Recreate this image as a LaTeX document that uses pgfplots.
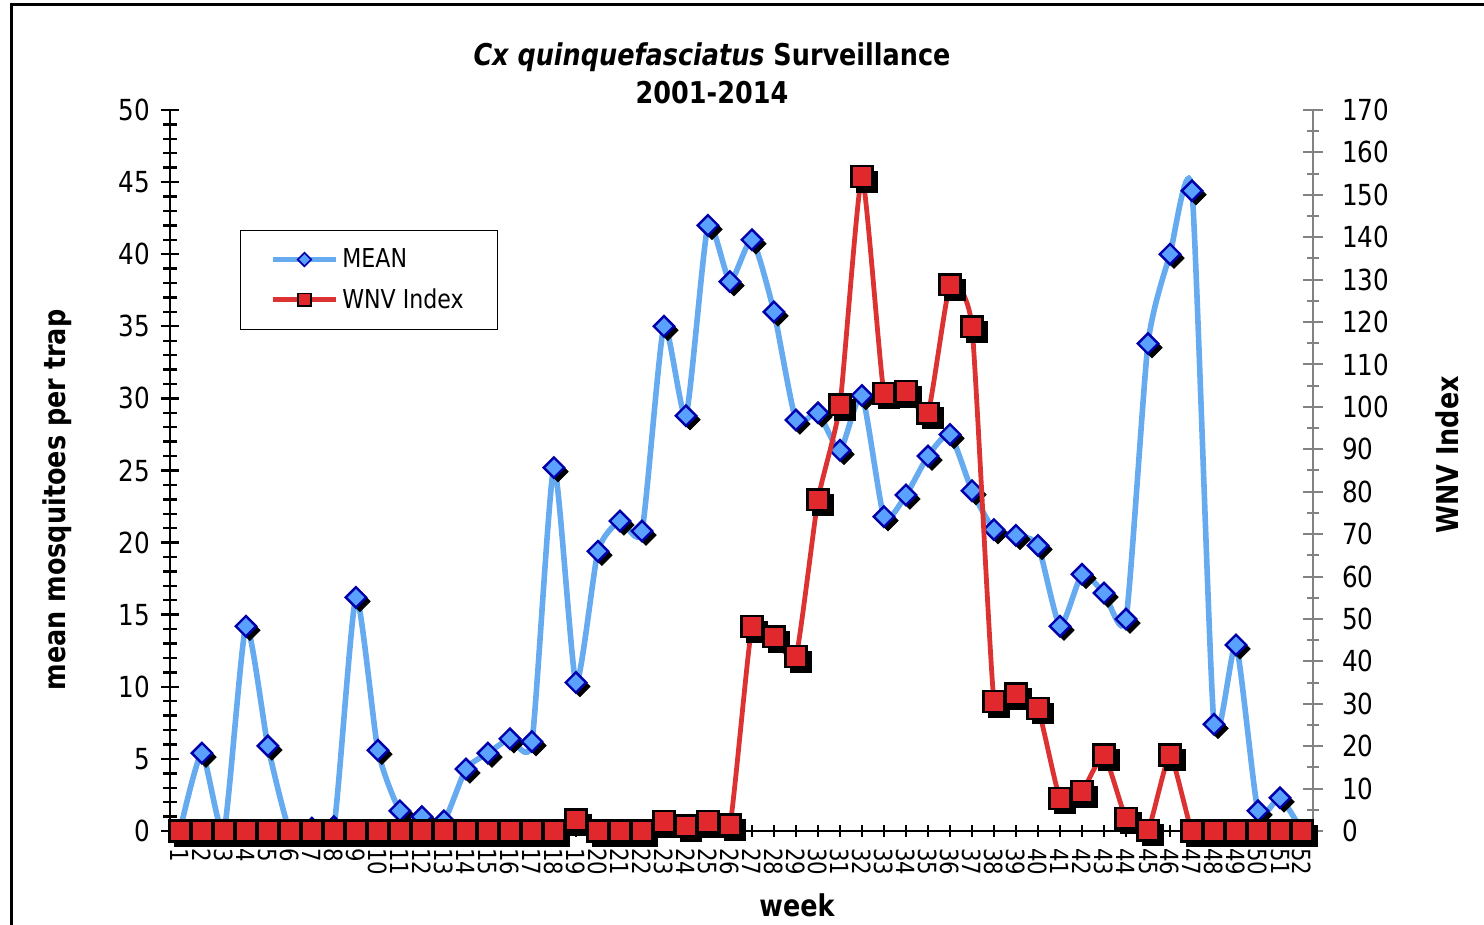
\documentclass[border=0pt]{standalone}
\usepackage{pgfplots}
\pgfplotsset{compat=1.18}
\usepackage{pgfplotstable}
\usepackage{fontspec}
\setmainfont{DejaVu Sans}[FakeStretch=0.85]
\definecolor{meanline}{RGB}{102,170,240}
\definecolor{meanfill}{RGB}{90,160,255}
\definecolor{meanedge}{RGB}{0,0,170}
\definecolor{wnvline}{RGB}{220,50,50}
\definecolor{wnvfill}{RGB}{225,40,45}
\definecolor{raxis}{RGB}{130,130,130}

\pgfplotstableread{
w v
1 0
2 5.4
3 0
4 14.2
5 5.9
6 0
7 0.2
8 0.3
9 16.2
10 5.6
11 1.4
12 1.0
13 0.7
14 4.3
15 5.4
16 6.4
17 6.2
18 25.2
19 10.3
20 19.4
21 21.5
22 20.8
23 35.0
24 28.8
25 42.0
26 38.1
27 41.0
28 36.0
29 28.5
30 29.0
31 26.4
32 30.2
33 21.8
34 23.3
35 26.0
36 27.5
37 23.6
38 20.9
39 20.5
40 19.8
41 14.2
42 17.8
43 16.5
44 14.7
45 33.8
46 40.0
47 44.4
48 7.4
49 12.9
50 1.4
51 2.3
52 0
}\meandata

\pgfplotstableread{
w v
1 0
2 0
3 0
4 0
5 0
6 0
7 0
8 0
9 0
10 0
11 0
12 0
13 0
14 0
15 0
16 0
17 0
18 0
19 2.6
20 0
21 0
22 0
23 2.2
24 1.2
25 2.2
26 1.4
27 48.2
28 45.8
29 41.1
30 78.1
31 100.5
32 154.3
33 103.2
34 103.6
35 98.5
36 128.8
37 118.9
38 30.5
39 32.3
40 28.9
41 7.7
42 9.3
43 17.9
44 3.0
45 0.2
46 17.9
47 0
48 0
49 0
50 0
51 0
52 0
}\wnvdata

\begin{document}
\begin{tikzpicture}
\useasboundingbox (0,0) rectangle (742pt,462.5pt);
\draw[line width=1.5pt] (5.5pt,0) -- (5.5pt,460pt) -- (742pt,460pt);

\begin{axis}[
  at={(85pt,47pt)}, anchor=south west,
  scale only axis, width=571.5pt, height=360.5pt,
  xmin=0.55, xmax=52.5, ymin=0, ymax=50,
  axis x line*=bottom, axis y line*=left,
  axis line style={line width=1.2pt,-},
  ytick={0,5,...,50}, minor y tick num=4,
  xtick={1,...,52},
  tick align=center,
  major tick length=9pt, minor tick length=7pt,
  tick style={line width=1.2pt,black},
  xtick style={/pgfplots/major tick length=6pt},
  /pgf/number format/assume math mode=true,
  yticklabel style={font=\fontsize{14.5}{15}\selectfont, xshift=-2pt},
  xticklabel style={rotate=-90, anchor=west, font=\fontsize{12.5}{13}\selectfont, inner sep=1pt},
  xticklabel shift=3pt,
  clip=false,
  legend style={at={(rel axis cs:0.0612,0.8336)}, anchor=north west, draw=black, line width=0.6pt,
    font=\fontsize{13}{14}\selectfont, inner xsep=15pt, inner ysep=7pt, row sep=5pt,
    /tikz/every even column/.style={column sep=1pt}},
  legend cell align=left,
  legend image code/.code={\draw[mark repeat=2,mark phase=2,#1] plot coordinates {(0pt,0pt)(15.75pt,0pt)(31.5pt,0pt)};},
]
\addlegendimage{color=meanline, line width=2.4pt, mark=square*, mark size=2.4pt, mark options={rotate=45, fill=meanfill, draw=meanedge, line width=0.8pt}}
\addlegendentry{MEAN}
\addlegendimage{color=wnvline, line width=2.4pt, mark=square*, mark size=3.2pt, mark options={fill=wnvfill, draw=black, line width=0.8pt}}
\addlegendentry{WNV Index}

\addplot[forget plot, color=meanline, line width=2.8pt, smooth, tension=0.35] table[x=w,y=v] {\meandata};
\addplot[forget plot, only marks, mark=square*, mark size=3.6pt, mark options={rotate=45, fill=black, draw=black}, xshift=2pt, yshift=-2pt] table[x=w,y=v] {\meandata};
\addplot[forget plot, only marks, mark=square*, mark size=3.6pt, mark options={rotate=45, fill=meanfill, draw=meanedge, line width=1.2pt}] table[x=w,y=v] {\meandata};
\end{axis}

\begin{axis}[
  at={(85pt,47pt)}, anchor=south west,
  scale only axis, width=571.5pt, height=360.5pt,
  xmin=0.55, xmax=52.5, ymin=0, ymax=170,
  axis x line=none, axis y line*=right,
  axis line style={line width=1pt,raxis,-},
  ytick={0,10,...,170}, minor y tick num=1,
  tick align=center,
  major tick length=10pt, minor tick length=6pt,
  tick style={line width=1pt,raxis},
  /pgf/number format/assume math mode=true,
  yticklabel style={font=\fontsize{14.5}{15}\selectfont, xshift=6pt},
  clip=false,
]
\addplot[color=wnvline, line width=2.4pt, smooth, tension=0.3] table[x=w,y=v] {\wnvdata};
\addplot[only marks, mark=square*, mark size=5.2pt, mark options={fill=black, draw=black}, xshift=2.5pt, yshift=-2.5pt] table[x=w,y=v] {\wnvdata};
\addplot[only marks, mark=square*, mark size=5.2pt, mark options={fill=wnvfill, draw=black, line width=1.2pt}] table[x=w,y=v] {\wnvdata};
\end{axis}

\node[font=\bfseries\fontsize{15}{16}\selectfont] at (356pt,434pt) {\textit{Cx quinquefasciatus} Surveillance};
\node[font=\bfseries\fontsize{15}{16}\selectfont] at (356pt,416pt) {2001-2014};
\node[font=\bfseries\fontsize{15}{16}\selectfont, rotate=90] at (28.5pt,212.5pt) {mean mosquitoes per trap};
\node[font=\bfseries\fontsize{15}{16}\selectfont, rotate=90] at (723.5pt,235pt) {WNV Index};
\node[font=\bfseries\fontsize{15}{16}\selectfont] at (398.5pt,10pt) {week};
\end{tikzpicture}
\end{document}
